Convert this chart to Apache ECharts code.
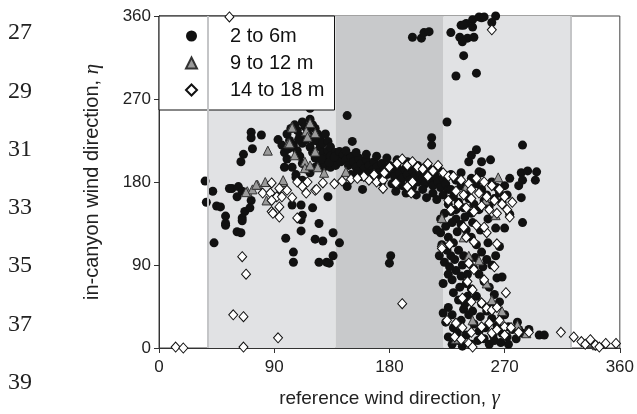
<!DOCTYPE html>
<html>
<head>
<meta charset="utf-8">
<script src="https://cdn.jsdelivr.net/npm/echarts@6/dist/echarts.min.js"></script>
<style>
html, body { margin: 0; padding: 0; background: #fff; }
#main { width: 637px; height: 414px; }
</style>
</head>
<body>
<div id="main"></div>
<script>
// series names
var names = ['2 to 6m', '9 to 12 m', '14 to 18 m'];

// shaded wind sectors (reference direction)
var lightBands = [[38, 138], [222, 322]];
var darkBands = [[138, 222]];

// manuscript line numbers
var lineNos = ['27', '29', '31', '33', '35', '37', '39'];

// 2 to 6 m  [gamma, eta]
var low = [
  [36,181],[42,170],[37,158],[45,154],[48,153],[57,173],[62,175],[61,164],[65,170],[55,173],
  [72,160],[67,148],[71,152],[65,141],[52,143],[52,133],[43,114],[52,135],[61,126],[64,125],
  [65,138],[99,119],[105,104],[105,93],[111,127],[125,135],[122,118],[128,116],[136,125],[141,114],
  [136,100],[125,93],[131,93],[133,92],[181,100],[180,92],
  [72,234],[80,231],[72,228],[73,216],[66,210],[64,202],
  [118,260],[147,252],[151,224],
  [98,196],[104,155],[111,155],[120,152],[112,144],[111,139],[132,164],[159,172],[147,175],[107,185],[112,182],
  [198,337],[205,336],[207,342],[211,343],[228,342],[236,350],[240,352],[245,356],[250,359],[252,358],
  [263,360],[235,337],[241,336],[246,337],[237,332],[238,317],[232,295],[248,298],
  [238,350],[245,348],[254,359],[260,353],
  [225,245],[213,228],[213,220],[248,215],[244,209],[242,202],[252,202],[259,204],[250,191],
  [284,220],[283,190],[288,192],[295,191],[294,182],[284,182],[281,176],[283,163],[284,136],
  [268,77],[297,14],[301,14],[281,20],[289,20],[273,23],
  [100,232],[103,238],[106,242],[108,236],[110,230],[112,245],[114,240],[116,236],[118,248],[120,242],
  [122,238],[124,232],[102,225],[105,220],[108,214],[110,208],[112,222],[115,226],[118,218],[120,212],
  [122,206],[124,224],[126,218],[128,212],[130,206],[132,214],[134,208],[136,202],[126,228],[128,222],
  [130,232],[132,224],[134,218],[138,212],[140,206],[112,200],[115,194],[118,190],[122,196],[125,200],
  [128,195],[130,199],[134,196],[138,198],[142,202],[107,188],[104,196],[100,205],[98,212],[96,220],
  [101,216],[104,218],[93,226],[109,226],[117,231],[121,225],[127,205],[133,201],[137,207],[141,213],
  [144,210],[146,204],[148,198],[150,208],[152,202],[154,196],[156,206],[158,200],[160,194],[162,204],
  [164,198],[166,192],[168,202],[170,196],[172,190],[174,200],[176,194],[178,188],[180,198],[182,192],
  [184,186],[186,196],[188,190],[190,184],[192,194],[194,188],[196,182],[198,192],[200,186],[202,180],
  [204,190],[206,184],[208,178],[210,188],[212,182],[214,176],[216,186],[218,180],[220,174],[222,184],
  [224,178],[226,172],[150,188],[158,186],[166,184],[174,180],[182,178],[190,176],[198,174],[206,172],
  [214,168],[222,166],[146,214],[154,212],[162,210],[170,208],[178,206],[186,204],[194,202],[202,198],
  [210,196],[218,194],[185,170],[193,168],[201,166],[209,163],[217,161],[155,191],[163,189],[171,187],
  [228,188],[232,182],[236,176],[240,170],[244,184],[248,178],[252,172],[256,166],[260,180],[264,174],
  [230,164],[234,158],[238,152],[242,162],[246,156],[250,150],[254,160],[258,154],[262,162],[266,168],
  [270,176],[274,184],[228,172],[236,190],[252,190],[268,158],[272,166],[226,156],[232,150],[244,146],
  [228,148],[232,140],[224,132],[236,134],[240,128],[226,120],[230,114],[244,120],[248,112],[234,106],
  [238,100],[252,104],[256,96],[242,92],[246,86],[260,90],[232,84],[236,78],[250,80],[254,72],
  [264,76],[240,70],[244,64],[258,66],[262,58],[230,60],[234,52],[248,56],[252,48],[266,50],
  [226,44],[238,42],[242,36],[256,40],[260,32],[270,36],[224,28],[230,22],[246,26],[250,18],
  [264,24],[268,16],[226,12],[234,8],[240,14],[254,10],[258,4],[272,12],[276,20],[236,30],
  [222,38],[244,4],[262,8],[280,28],[284,16],[228,100],[226,80],[222,70],[220,125],[217,128],
  [223,93],[266,110],[270,130],[274,145],
  [220,140],[223,146],[229,136],[233,126],[221,112],[225,106],[231,96],[237,90],[219,100],[227,88],
  [229,74],[235,66],[241,56],[239,48],[229,36],[233,16],[229,4],[237,2],[249,8],[255,22],
  [261,14],[267,6],[273,4],[279,10],[245,40],[251,34],[259,46],[263,100],[257,114],[251,128],
  [245,136],[239,142],[257,140],[263,130],[247,98],[253,88],[241,80]
];

// 9 to 12 m
var mid = [
  [69,170],[73,172],[77,177],[83,180],[84,160],[85,214],[68,169],[76,177],[97,180],
  [104,240],[118,244],[115,235],[116,229],[101,222],[122,213],[106,209],[114,202],[114,195],[118,198],
  [124,196],[129,190],[146,191],[97,182],[104,239],[102,222],[122,233],
  [263,144],[221,141],[260,52],[287,16],[238,120],[250,95],[256,70],[245,30],[268,40],[232,10],
  [255,160],[240,175],[265,185],[335,5],[338,6],[342,3],[280,25],[242,100]
];

// 14 to 18 m
var high = [
  [65,99],[68,80],[58,36],[66,34],[93,11],[66,1],[13,1],[19,0],[190,48],[55,359],
  [271,60],[314,17],[324,12],[330,7],[333,4],[337,9],[341,3],[344,1],[349,5],[357,5],[260,345],
  [81,168],[88,179],[92,164],[100,171],[108,180],[112,175],[115,168],[122,171],[87,168],[88,160],
  [88,148],[94,173],[104,163],[116,180],[96,164],[94,153],[89,146],[94,142],[108,141],
  [123,172],[128,179],[137,178],[143,181],[150,183],[164,182],[170,180],[175,182],[175,173],
  [186,200],[190,205],[194,198],[198,202],[202,196],[206,194],[210,200],[214,192],[218,198],[222,190],
  [226,186],[185,179],[198,180],[210,186],[197,168],[194,175],[180,196],[176,190],[168,188],[160,186],
  [155,184],
  [230,186],[236,182],[242,178],[248,184],[254,180],[260,176],[266,172],[232,170],[238,166],[244,162],
  [250,168],[256,164],[262,160],[268,156],[272,150],[234,156],[240,152],[246,148],[252,154],[258,150],
  [264,146],[226,160],[270,164],[276,158],[274,142],[244,172],[228,150],
  [221,110],[227,112],[240,120],[246,115],[256,125],[254,131],[248,133],[238,131],[264,113],[221,108],
  [242,92],[246,85],[254,74],[241,72],[245,63],[262,88],
  [237,54],[244,50],[252,49],[256,43],[260,41],[264,44],
  [225,30],[232,27],[237,22],[244,17],[252,23],[258,27],[266,30],[270,23],[275,22],
  [231,12],[236,9],[242,5],[245,1],[252,11],[260,16],[264,20],[270,14],[281,17],[289,17]
];

var chart = echarts.init(document.getElementById('main'));

var areaData = [];
lightBands.forEach(function (b) {
  areaData.push([{ xAxis: b[0], itemStyle: { color: '#e1e2e4' } }, { xAxis: b[1] }]);
});
darkBands.forEach(function (b) {
  areaData.push([{ xAxis: b[0], itemStyle: { color: '#c8c9cb' } }, { xAxis: b[1] }]);
});

var numGraphics = lineNos.map(function (t, i) {
  return {
    type: 'text', left: 8, top: 21 + i * 58.3,
    style: { text: t, font: '24px "Liberation Serif", serif', fill: '#222' }
  };
});

var font = '"Liberation Sans", Arial, sans-serif';
var italic = { fontFamily: '"Liberation Serif", serif', fontStyle: 'italic', fontSize: 21, color: '#222' };

option = {
  animation: false,
  backgroundColor: '#fff',
  grid: { left: 159, right: 15, top: 16, bottom: 66, show: true, borderColor: '#444', borderWidth: 1, backgroundColor: 'transparent' },
  graphic: numGraphics,
  legend: {
    data: names,
    orient: 'vertical',
    left: 159, top: 16,
    backgroundColor: '#fff',
    borderColor: '#111', borderWidth: 1,
    padding: [9, 10, 9, 26],
    itemGap: 5,
    itemWidth: 11, itemHeight: 11,
    textStyle: { fontFamily: font, fontSize: 20, color: '#111', padding: [0, 0, 0, 28], lineHeight: 22 }
  },
  xAxis: {
    type: 'value', min: 0, max: 360, interval: 90,
    name: 'reference wind direction, {i|γ}',
    nameLocation: 'middle', nameGap: 40,
    nameTextStyle: { fontFamily: font, fontSize: 19, color: '#222', rich: { i: italic } },
    axisLine: { lineStyle: { color: '#333', width: 1 } },
    axisTick: { show: true, length: 5, lineStyle: { color: '#333' } },
    axisLabel: { fontFamily: font, fontSize: 17, color: '#222', margin: 11 },
    splitLine: { show: false }
  },
  yAxis: {
    type: 'value', min: 0, max: 360, interval: 90,
    name: 'in-canyon wind direction, {i|η}',
    nameLocation: 'middle', nameGap: 56,
    nameTextStyle: { fontFamily: font, fontSize: 20, color: '#222', rich: { i: italic } },
    axisLine: { show: true, lineStyle: { color: '#333', width: 1 } },
    axisTick: { show: true, length: 5, lineStyle: { color: '#333' } },
    axisLabel: { fontFamily: font, fontSize: 17, color: '#222', margin: 8 },
    splitLine: { show: false }
  },
  series: [
    {
      name: 'sectors', type: 'scatter', data: [], z: 1, silent: true,
      markArea: { silent: true, data: areaData },
      markLine: {
        silent: true, symbol: 'none', label: { show: false },
        lineStyle: { color: '#c4c5c7', width: 2, type: 'solid' },
        data: [{ xAxis: lightBands[0][0] }, { xAxis: lightBands[1][1] }]
      }
    },
    {
      name: names[0], type: 'scatter', data: low, z: 3,
      symbol: 'circle', symbolSize: 9,
      itemStyle: { color: '#111', opacity: 1 }
    },
    {
      name: names[1], type: 'scatter', data: mid, z: 4,
      symbol: 'triangle', symbolSize: 9,
      itemStyle: { color: '#9a9a9a', borderColor: '#333', borderWidth: 1, opacity: 1 }
    },
    {
      name: names[2], type: 'scatter', data: high, z: 5,
      symbol: 'diamond', symbolSize: [9, 10],
      itemStyle: { color: '#fff', borderColor: '#111', borderWidth: 1, opacity: 1 }
    }
  ]
};

chart.setOption(option);
</script>
</body>
</html>
